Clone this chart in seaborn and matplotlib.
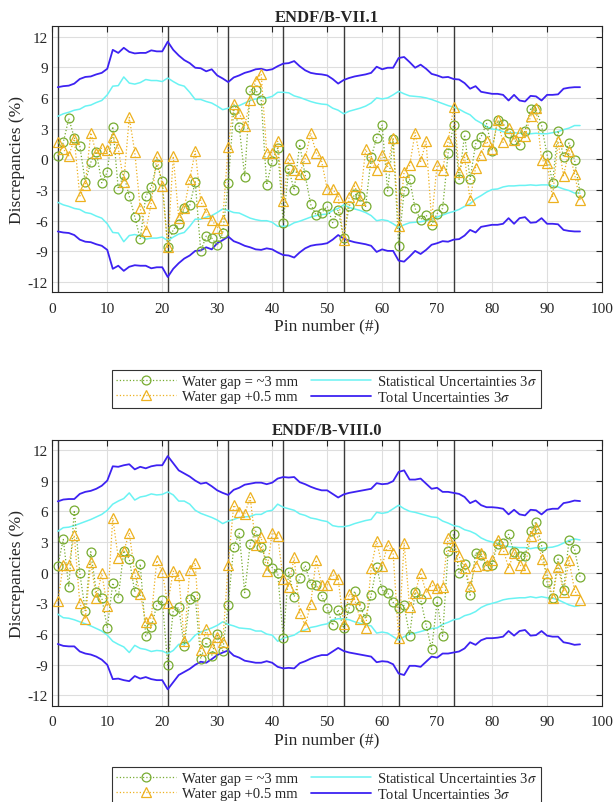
import numpy as np
import pandas as pd
import matplotlib
matplotlib.use("Agg")
import matplotlib.pyplot as plt
import seaborn as sns
from matplotlib.lines import Line2D

# ---------------- data ----------------
pins = list(range(1, 97))
boundaries = [1, 21, 32, 42, 53, 63, 73]
titles = ["ENDF/B-VII.1", "ENDF/B-VIII.0"]
x_ticks = list(range(0, 101, 10))
y_ticks = list(range(-12, 13, 3))

# ENDF/B-VII.1
top_gap3 = [0.3, 1.65, 4.0, 2.1, 1.3, -2.2, -0.3, 0.75, -2.3, -1.25,
            3.2, -2.9, -1.5, -3.6, -5.6, -7.8, -3.6, -2.7, -0.5, -2.1,
            -8.6, -6.85, -6.35, -4.75, -4.5, -2.2, -9.0, -7.5, -7.7, -8.4,
            -7.2, -2.35, 4.8, 3.2, -1.7, 6.8, 6.8, 5.8, -2.5, -0.15,
            1.1, -6.2, -0.95, -3.0, 1.45, -1.55, -4.4, -5.45, -5.2, -4.6,
            -6.2, -4.95, -7.7, -4.6, -3.4, -3.6, -4.6, 0.2, 2.1, 3.35,
            -3.1, 2.0, -8.45, -3.1, -1.95, -4.8, -5.9, -5.45, -6.4, -5.3,
            -4.8, 0.6, 3.35, -1.95, 2.4, -1.95, 1.5, 2.2, 3.5, 0.85,
            3.8, 3.5, 2.6, 1.9, 1.4, 2.8, 4.9, 4.9, 3.3, 0.45,
            -2.3, 2.8, 0.2, 1.6, -0.05, -3.3]
top_gap05 = [1.65, 1.0, 0.34, 2.0, -3.6, -2.5, 2.6, 0.6, 1.1, 0.9,
             2.2, 1.1, -2.2, 4.1, 0.7, -4.8, -7.0, -4.3, 0.3, -2.6,
             -8.6, 0.3, -5.7, -4.8, -1.95, 0.8, -4.1, -5.2, -5.9, -6.7,
             -5.9, 1.25, 5.4, 4.5, 3.3, 5.8, 7.7, 8.35, 0.65, 0.65,
             1.75, -4.1, 0.1, -1.0, -1.4, 0.1, 2.55, 0.65, -0.2, -2.9,
             -2.9, -3.65, -7.9, -3.65, -2.6, -4.0, 1.0, -0.3, -1.0, 0.45,
             -0.7, 2.05, -6.5, -1.2, -0.6, 2.6, -0.2, 1.75, -5.9, -0.55,
             -1.0, 1.75, 5.1, -1.2, 0.2, -4.0, -0.8, 0.45, 1.75, 1.0,
             3.8, 1.65, 3.05, 1.9, 2.7, 2.3, 4.2, 5.0, -0.05, -0.4,
             -3.7, 1.75, -1.6, 0.85, -1.45, -4.0]
top_stat = [4.2, 4.45, 4.6, 4.8, 4.9, 5.2, 5.3, 5.55, 5.75, 6.3,
            7.15, 7.2, 8.05, 7.45, 7.35, 7.5, 7.8, 7.7, 7.7, 7.6,
            7.95, 7.6, 7.3, 7.15, 6.55, 5.85, 5.85, 5.65, 5.5, 5.2,
            4.85, 5.0, 5.2, 5.25, 5.5, 5.75, 5.9, 6.0, 6.0, 6.15,
            6.55, 6.55, 6.5, 6.2, 6.05, 5.85, 5.65, 5.5, 5.4, 5.35,
            5.0, 4.8, 4.45, 4.7, 4.85, 5.0, 5.2, 5.5, 6.0, 5.9,
            6.0, 6.3, 6.65, 6.4, 6.2, 6.15, 6.1, 6.0, 5.85, 5.65,
            5.45, 5.25, 5.1, 4.9, 4.6, 4.35, 3.85, 3.55, 3.2, 2.95,
            2.9, 2.7, 2.6, 2.6, 2.55, 2.55, 2.5, 2.55, 2.5, 2.5,
            2.6, 2.7, 2.9, 3.05, 3.3, 3.3]
top_total = [7.05, 7.15, 7.2, 7.4, 7.85, 8.05, 8.1, 8.3, 8.45, 8.85,
             10.7, 10.4, 10.9, 10.5, 10.35, 10.4, 10.4, 10.65, 10.55, 10.55,
             11.5, 10.7, 10.15, 9.7, 9.4, 8.95, 8.9, 8.6, 8.8, 8.2,
             7.9, 7.55, 8.0, 8.2, 8.45, 8.6, 8.8, 8.85, 8.7, 8.8,
             9.1, 9.35, 9.4, 9.6, 9.1, 8.7, 8.45, 8.35, 8.3, 8.2,
             7.85, 7.4, 7.75, 7.95, 8.1, 8.2, 8.3, 8.45, 9.05, 8.8,
             8.95, 8.95, 9.9, 10.0, 9.5, 8.95, 9.25, 8.85, 8.35, 8.2,
             8.0, 8.05, 7.85, 7.8, 7.45, 6.9, 7.15, 6.6, 6.5, 6.4,
             6.4, 6.3, 5.75, 6.3, 5.75, 5.65, 6.2, 6.15, 5.75, 6.3,
             6.3, 6.35, 6.9, 7.0, 7.05, 7.05]

# ENDF/B-VIII.0
bot_gap3 = [0.7, 3.25, -1.4, 6.1, -0.05, -3.7, 2.05, -1.85, -2.45, -5.4,
            -1.0, -2.45, 2.15, 1.35, -1.9, 0.85, -6.2, -5.3, -3.2, -2.7,
            -9.0, -3.7, -3.4, -7.2, -2.6, -2.3, -8.4, -6.8, -8.1, -6.0,
            -7.65, -3.15, 2.55, 3.85, -1.95, 2.85, 4.05, 2.55, 1.1, 0.5,
            0.0, -6.4, 0.05, -2.35, -0.5, 0.7, -1.15, -1.2, -2.25, -3.45,
            -5.15, -3.6, -5.45, -3.45, -1.8, -3.3, -4.5, -2.2, 0.6, -1.7,
            -1.95, -2.9, -3.45, -3.2, -6.15, -1.9, -2.6, -5.1, -7.5, -2.8,
            -6.2, 2.1, 3.8, 0.0, 0.85, -2.2, 1.95, 1.7, 0.7, 0.8,
            2.85, 2.95, 3.75, 2.0, 1.6, 1.6, 4.05, 5.0, 2.65, -0.95,
            -2.45, 1.35, -1.65, 3.2, 2.3, -0.4]
bot_gap05 = [-2.8, 0.8, 0.8, 3.65, -2.95, -4.55, 1.05, -2.45, -0.05, -3.3,
             5.35, 1.45, 2.1, 3.9, -0.05, -2.05, -4.8, -4.4, 1.2, 0.05,
             -3.0, 0.15, -0.25, -6.7, 0.25, 0.95, -7.55, -5.55, -7.35, -6.25,
             -6.8, 0.8, 6.6, 5.95, 5.75, 7.35, 2.75, 3.5, 0.15, 3.9,
             3.6, -0.65, -1.35, 1.5, -3.9, -5.2, -3.05, 1.25, -1.2, -1.2,
             -0.15, -0.6, -5.0, -2.05, -2.6, -4.5, -5.45, 0.45, 3.1, 0.65,
             2.75, 1.95, -6.4, 2.9, -3.35, -2.0, 0.0, -1.95, -1.2, -1.5,
             -1.4, 3.4, 2.6, 1.6, 0.45, -1.3, 0.7, 1.9, 0.75, 1.25,
             3.2, 2.3, 0.5, 1.9, 0.75, 0.5, 3.55, 4.4, 1.35, 0.0,
             -2.45, 0.6, -1.9, 1.2, -1.7, -2.7]
bot_stat = [4.05, 4.4, 4.45, 4.6, 4.8, 5.0, 5.2, 5.45, 5.7, 6.1,
            6.7, 7.0, 7.25, 7.8, 7.1, 7.4, 7.5, 7.7, 7.6, 7.65,
            7.9, 7.6, 7.0, 7.0, 6.7, 6.1, 5.8, 5.6, 5.4, 5.15,
            4.8, 5.05, 5.2, 5.4, 5.45, 5.5, 5.7, 5.7, 6.0, 6.1,
            6.7, 6.4, 6.25, 6.1, 5.75, 5.6, 5.35, 5.25, 5.1, 5.0,
            4.6, 4.5, 4.5, 4.6, 4.8, 4.95, 5.1, 5.2, 5.9, 5.8,
            5.9, 6.25, 6.6, 6.25, 6.0, 5.9, 5.75, 5.6, 5.45, 5.4,
            5.05, 4.85, 4.6, 4.5, 4.2, 4.05, 3.8, 3.4, 3.15, 3.0,
            2.85, 2.65, 2.55, 2.5, 2.45, 2.45, 2.35, 2.45, 2.35, 2.45,
            2.5, 2.65, 2.9, 3.15, 3.3, 3.2]
bot_total = [6.97, 7.15, 7.2, 7.2, 7.7, 7.9, 8.0, 8.2, 8.5, 9.0,
             10.4, 10.35, 10.5, 10.6, 10.1, 10.35, 10.2, 10.4, 10.5, 10.5,
             11.4, 10.7, 10.0, 9.7, 9.4, 9.0, 8.7, 8.8, 8.45, 8.05,
             7.8, 7.6, 8.1, 8.3, 8.6, 8.7, 8.8, 8.8, 8.65, 8.8,
             9.2, 9.35, 9.3, 9.35, 8.85, 8.65, 8.4, 8.2, 8.05, 8.05,
             7.7, 7.35, 7.65, 7.8, 7.9, 8.0, 8.1, 8.2, 8.75, 8.65,
             8.7, 8.95, 9.85, 10.0, 9.1, 9.1, 9.2, 8.7, 8.2, 8.3,
             7.9, 7.9, 7.8, 7.7, 7.4, 6.8, 7.05, 6.6, 6.4, 6.4,
             6.35, 6.25, 5.7, 6.15, 5.7, 5.6, 6.15, 6.1, 5.7, 6.15,
             6.25, 6.25, 6.8, 6.9, 7.05, 7.0]

labels = ["Water gap = ~3 mm", "Water gap +0.5 mm",
          "Statistical Uncertainties 3$\\sigma$", "Total Uncertainties 3$\\sigma$"]

# ---------------- style ----------------
GREEN = "#77AC30"
GOLD = "#EDB120"
CYAN = "#6af3f3"
BLUE = "#3d22f2"

sns.set_theme(style="white")
plt.rcParams["font.family"] = ["Liberation Serif", "DejaVu Serif"]
plt.rcParams["mathtext.fontset"] = "stix"
plt.rcParams["axes.unicode_minus"] = False

fig = plt.figure(figsize=(6.16, 8.03), dpi=100)
fig.patch.set_facecolor("white")
ax_top = fig.add_axes([0.0849, 0.6347, 0.8924, 0.3313])
ax_bot = fig.add_axes([0.0849, 0.1199, 0.8924, 0.3313])


def draw(ax, title, gap3, gap05, stat, total):
    df = pd.DataFrame({"pin": pins, "gap3": gap3, "gap05": gap05,
                       "stat": stat, "total": total})
    df["nstat"] = -df["stat"]
    df["ntotal"] = -df["total"]
    for xb in boundaries:
        ax.axvline(xb, color="#3a3a3a", lw=1.0, zorder=1.5)
    for col, c, lw in [("stat", CYAN, 1.1), ("nstat", CYAN, 1.1),
                       ("total", BLUE, 1.3), ("ntotal", BLUE, 1.3)]:
        sns.lineplot(data=df, x="pin", y=col, ax=ax, color=c, lw=lw,
                     legend=False, zorder=2)
    sns.lineplot(data=df, x="pin", y="gap3", ax=ax, color=GREEN, lw=0.9,
                 linestyle=":", marker="o", markersize=6.4,
                 markerfacecolor="none", markeredgecolor=GREEN,
                 markeredgewidth=0.9, legend=False, zorder=3)
    sns.lineplot(data=df, x="pin", y="gap05", ax=ax, color=GOLD, lw=0.9,
                 linestyle=":", marker="^", markersize=7.2,
                 markerfacecolor="none", markeredgecolor=GOLD,
                 markeredgewidth=0.9, legend=False, zorder=3)
    ax.set_xlim(0, 100)
    ax.set_ylim(-13, 13)
    ax.set_xticks(x_ticks)
    ax.set_yticks(y_ticks)
    ax.grid(True, color="#dedede", lw=0.8, zorder=0)
    ax.set_axisbelow(True)
    ax.tick_params(direction="in", top=True, right=True, length=4,
                   width=0.8, labelsize=11, colors="#262626")
    ax.tick_params(axis="x", pad=7)
    ax.tick_params(axis="y", pad=3)
    for s in ax.spines.values():
        s.set_color("#262626")
        s.set_linewidth(0.8)
    ax.set_xlabel("Pin number (#)", fontsize=12.5, labelpad=2)
    ax.set_ylabel("Discrepancies (%)", fontsize=12.5, labelpad=2)
    ax.set_title(title, fontsize=12, fontweight="bold", pad=4)


def add_legend(y_top):
    handles = [
        Line2D([], [], color=GREEN, lw=0.9, linestyle=":", marker="o",
               markersize=6.4, markerfacecolor="none", markeredgewidth=0.9),
        Line2D([], [], color=GOLD, lw=0.9, linestyle=":", marker="^",
               markersize=7.2, markerfacecolor="none", markeredgewidth=0.9),
        Line2D([], [], color=CYAN, lw=1.1),
        Line2D([], [], color=BLUE, lw=1.3),
    ]
    leg = fig.legend(handles, labels, loc="upper left",
                     bbox_to_anchor=(0.1818, y_top), ncol=2, frameon=True,
                     fancybox=False, edgecolor="black", fontsize=10.5,
                     handlelength=4.1, handletextpad=0.4, columnspacing=0.9,
                     borderpad=0.3, labelspacing=0.12, borderaxespad=0)
    leg.get_frame().set_linewidth(0.8)
    return leg


draw(ax_top, titles[0], top_gap3, top_gap05, top_stat, top_total)
draw(ax_bot, titles[1], bot_gap3, bot_gap05, bot_stat, bot_total)
add_legend(0.538)
add_legend(0.0436)

fig.savefig("out.png", dpi=100, facecolor="white")
